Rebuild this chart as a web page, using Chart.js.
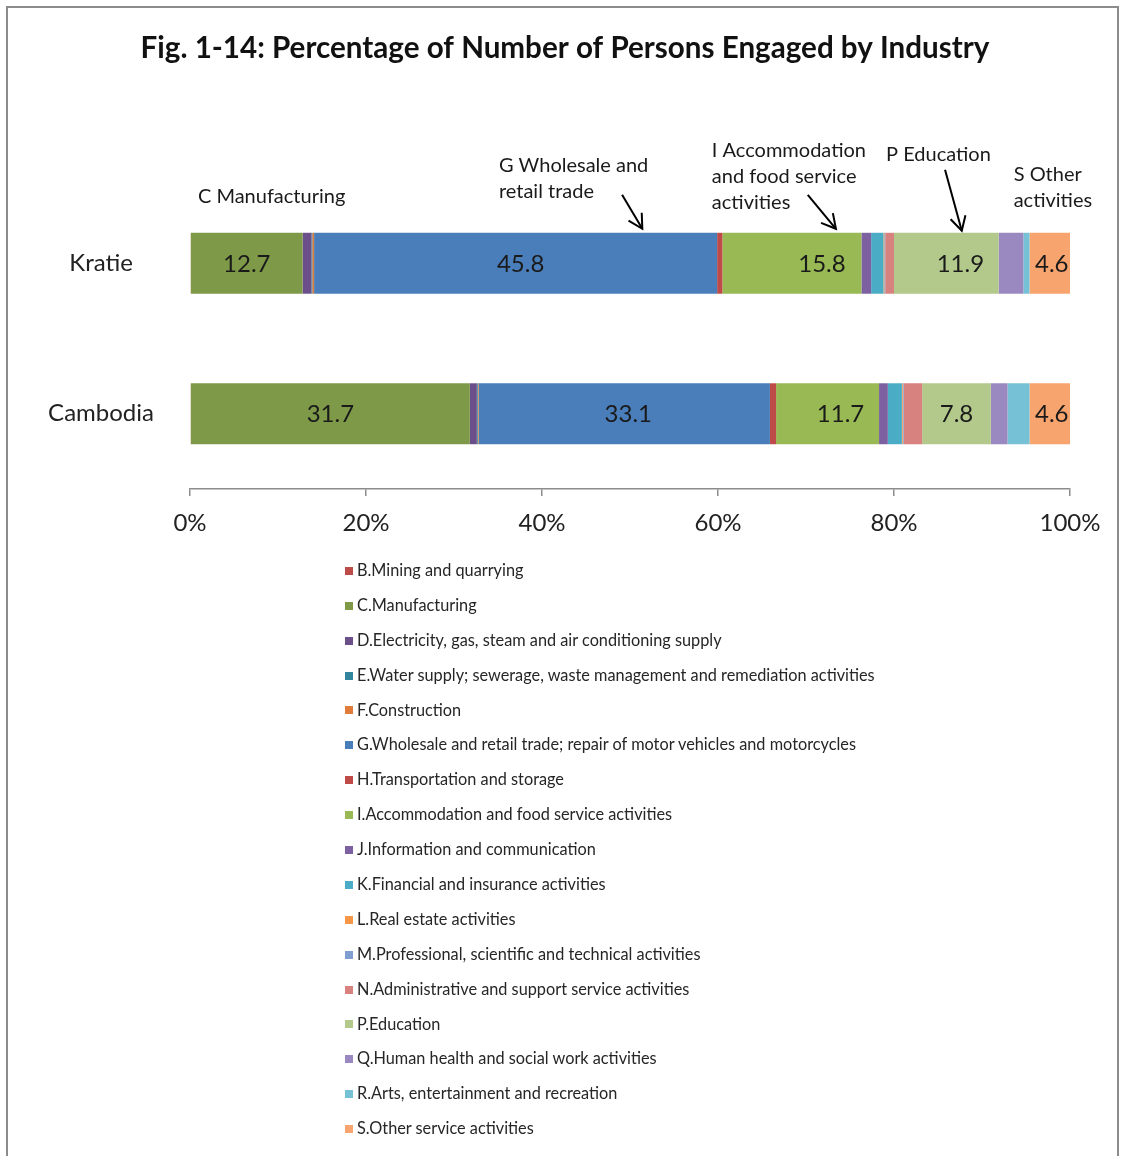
<!DOCTYPE html>
<html><head><meta charset="utf-8">
<script src="https://cdn.jsdelivr.net/npm/chart.js@4"></script>
<style>
html,body{margin:0;padding:0;background:#fff;}
#wrap{position:relative;width:1124px;height:1156px;overflow:hidden;font-family:Lato,"Open Sans",sans-serif;background:#fff;}
#frame{position:absolute;left:6px;top:6px;width:1113px;height:1200px;border:2px solid #8c8c8c;box-sizing:border-box;}
#c{position:absolute;left:0;top:0;}
#legend{position:absolute;left:345px;top:553px;}
.li{height:34.9px;line-height:34.9px;font-size:16.3px;color:#262626;white-space:nowrap;}
.sw{display:inline-block;width:8px;height:8px;margin-right:4px;vertical-align:middle;position:relative;top:-1px;}
</style>
</head><body>
<div id="wrap">
<div id="frame"></div>
<canvas id="c" width="1124" height="560"></canvas>
<div id="legend"></div>
</div>
<script>
// ---- data ----
const regions = ['Kratie', 'Cambodia'];
const industries = [
  'B.Mining and quarrying',
  'C.Manufacturing',
  'D.Electricity, gas, steam and air conditioning supply',
  'E.Water supply; sewerage, waste management and remediation activities',
  'F.Construction',
  'G.Wholesale and retail trade; repair of motor vehicles and motorcycles',
  'H.Transportation and storage',
  'I.Accommodation and food service activities',
  'J.Information and communication',
  'K.Financial and insurance activities',
  'L.Real estate activities',
  'M.Professional, scientific and technical activities',
  'N.Administrative and support service activities',
  'P.Education',
  'Q.Human health and social work activities',
  'R.Arts, entertainment and recreation',
  'S.Other service activities'
];
const kratieValues   = [0.1, 12.7, 1.0, 0.1, 0.2, 45.8, 0.6, 15.8, 1.1, 1.4, 0.1, 0.1, 1.0, 11.9, 2.8, 0.7, 4.6];
const cambodiaValues = [0.1, 31.7, 0.8, 0.1, 0.1, 33.1, 0.7, 11.7, 1.0, 1.6, 0.1, 0.1, 2.1, 7.8, 1.9, 2.5, 4.6];
const tickValues = [0, 20, 40, 60, 80, 100];
const labelledIndustries = ['C.Manufacturing',
  'G.Wholesale and retail trade; repair of motor vehicles and motorcycles',
  'I.Accommodation and food service activities', 'P.Education', 'S.Other service activities'];
const titleText = 'Fig. 1-14: Percentage of Number of Persons Engaged by Industry';

// ---- styles ----
const colors = ['#be4b48','#7e9a48','#6a4f8a','#31859c','#e07b39','#4a7ebb','#be4b48','#98b954',
  '#7d60a0','#4bacc6','#f79646','#7f9fd0','#d8827f','#b2c98b','#9a88c0','#77c1d6','#f8a46e'];
const FONT = 'Lato, "Open Sans", sans-serif';
const TITLE_STYLE = { centerX: 565, centerY: 48, size: 29.6 };
// horizontal nudges (px) for value labels, per industry, per region (as placed in the original)
const labelNudge = {
  'I.Accommodation and food service activities': [30, 13],
  'P.Education': [14, 0],
  'G.Wholesale and retail trade; repair of motor vehicles and motorcycles': [5, 4],
  'S.Other service activities': [2, 2]
};

// annotation callouts above the Kratie bar: x in axis %, y offsets from bar top (px)
const callouts = [
  {lines:['C Manufacturing'], x:0.9, dy:[-36]},
  {lines:['G Wholesale and','retail trade'], x:35.1, dy:[-67,-41], arrow:{x1:49.1,y1:-38,x2:51.4,y2:-4}},
  {lines:['I Accommodation','and food service','activities'], x:59.3, dy:[-82,-56,-30], arrow:{x1:70.2,y1:-38,x2:73.4,y2:-4}},
  {lines:['P Education'], x:79.1, dy:[-78], arrow:{x1:85.8,y1:-63,x2:87.7,y2:-2}},
  {lines:['S Other','activities'], x:93.6, dy:[-58,-32]}
];

const datasets = industries.map((name, i) => ({
  label: name,
  data: [kratieValues[i], cambodiaValues[i]],
  backgroundColor: colors[i],
  borderWidth: 0,
  categoryPercentage: 1.0,
  barPercentage: 0.405
}));

const titlePlugin = {
  id: 'figTitle',
  afterDraw(chart) {
    const ctx = chart.ctx;
    ctx.save();
    ctx.font = 'bold ' + TITLE_STYLE.size + 'px ' + FONT;
    ctx.fillStyle = '#111';
    ctx.textAlign = 'center';
    ctx.textBaseline = 'middle';
    ctx.fillText(titleText, TITLE_STYLE.centerX, TITLE_STYLE.centerY);
    ctx.restore();
  }
};

const valueLabels = {
  id: 'valueLabels',
  afterDatasetsDraw(chart) {
    const ctx = chart.ctx;
    ctx.save();
    ctx.font = '24px ' + FONT;
    ctx.fillStyle = '#1a1a1a';
    ctx.textAlign = 'center';
    ctx.textBaseline = 'middle';
    chart.data.datasets.forEach((ds, i) => {
      if (!labelledIndustries.includes(ds.label)) return;
      const nudge = labelNudge[ds.label] || [0, 0];
      chart.getDatasetMeta(i).data.forEach((bar, j) => {
        const p = bar.getProps(['x', 'base', 'y'], true);
        ctx.fillText(ds.data[j].toFixed(1), (p.x + p.base) / 2 + nudge[j], p.y + 1);
      });
    });
    ctx.restore();
  }
};

const calloutPlugin = {
  id: 'callouts',
  afterDraw(chart) {
    const ctx = chart.ctx;
    const xs = chart.scales.x;
    const bar = chart.getDatasetMeta(0).data[0];
    const top = bar.y - bar.height / 2;
    ctx.save();
    ctx.font = '20px ' + FONT;
    ctx.fillStyle = '#1a1a1a';
    ctx.textAlign = 'left';
    ctx.textBaseline = 'middle';
    callouts.forEach(c => {
      const lx = xs.getPixelForValue(c.x);
      c.lines.forEach((t, k) => ctx.fillText(t, lx, top + c.dy[k]));
      if (c.arrow) {
        const a = c.arrow;
        const x1 = xs.getPixelForValue(a.x1), y1 = top + a.y1;
        const x2 = xs.getPixelForValue(a.x2), y2 = top + a.y2;
        ctx.strokeStyle = '#000';
        ctx.lineWidth = 2;
        ctx.beginPath(); ctx.moveTo(x1, y1); ctx.lineTo(x2, y2); ctx.stroke();
        const ang = Math.atan2(y2 - y1, x2 - x1), L = 16, h = 0.5;
        ctx.beginPath();
        ctx.moveTo(x2 - L * Math.cos(ang - h), y2 - L * Math.sin(ang - h));
        ctx.lineTo(x2, y2);
        ctx.lineTo(x2 - L * Math.cos(ang + h), y2 - L * Math.sin(ang + h));
        ctx.stroke();
      }
    });
    ctx.restore();
  }
};

const chart = new Chart(document.getElementById('c'), {
  type: 'bar',
  data: { labels: regions, datasets },
  options: {
    indexAxis: 'y',
    responsive: false,
    animation: false,
    layout: { padding: { left: 20, right: 54, top: 188, bottom: 0 } },
    plugins: {
      legend: { display: false },
      tooltip: { enabled: false },
      title: { display: false }
    },
    scales: {
      x: {
        stacked: true, min: 0, max: 100,
        afterBuildTicks: s => { s.ticks = tickValues.map(v => ({ value: v })); },
        afterFit: s => { s.height = 71; },
        grid: { drawOnChartArea: false, drawTicks: true, tickLength: 7, color: '#8c8c8c', lineWidth: 1.5 },
        border: { display: true, color: '#8c8c8c', width: 1.5 },
        ticks: { callback: v => v + '%', color: '#222', padding: 13, font: { family: FONT, size: 24 } }
      },
      y: {
        stacked: true,
        afterFit: s => { s.width = 170; },
        grid: { display: false },
        border: { display: false },
        ticks: { color: '#222', crossAlign: 'center', padding: 28, font: { family: FONT, size: 24 } }
      }
    }
  },
  plugins: [valueLabels, calloutPlugin, titlePlugin]
});

// HTML legend built from the chart's datasets
const lg = document.getElementById('legend');
chart.data.datasets.forEach(ds => {
  const row = document.createElement('div');
  row.className = 'li';
  const sw = document.createElement('span');
  sw.className = 'sw';
  sw.style.background = ds.backgroundColor;
  row.appendChild(sw);
  row.appendChild(document.createTextNode(ds.label));
  lg.appendChild(row);
});
</script>
</body></html>
